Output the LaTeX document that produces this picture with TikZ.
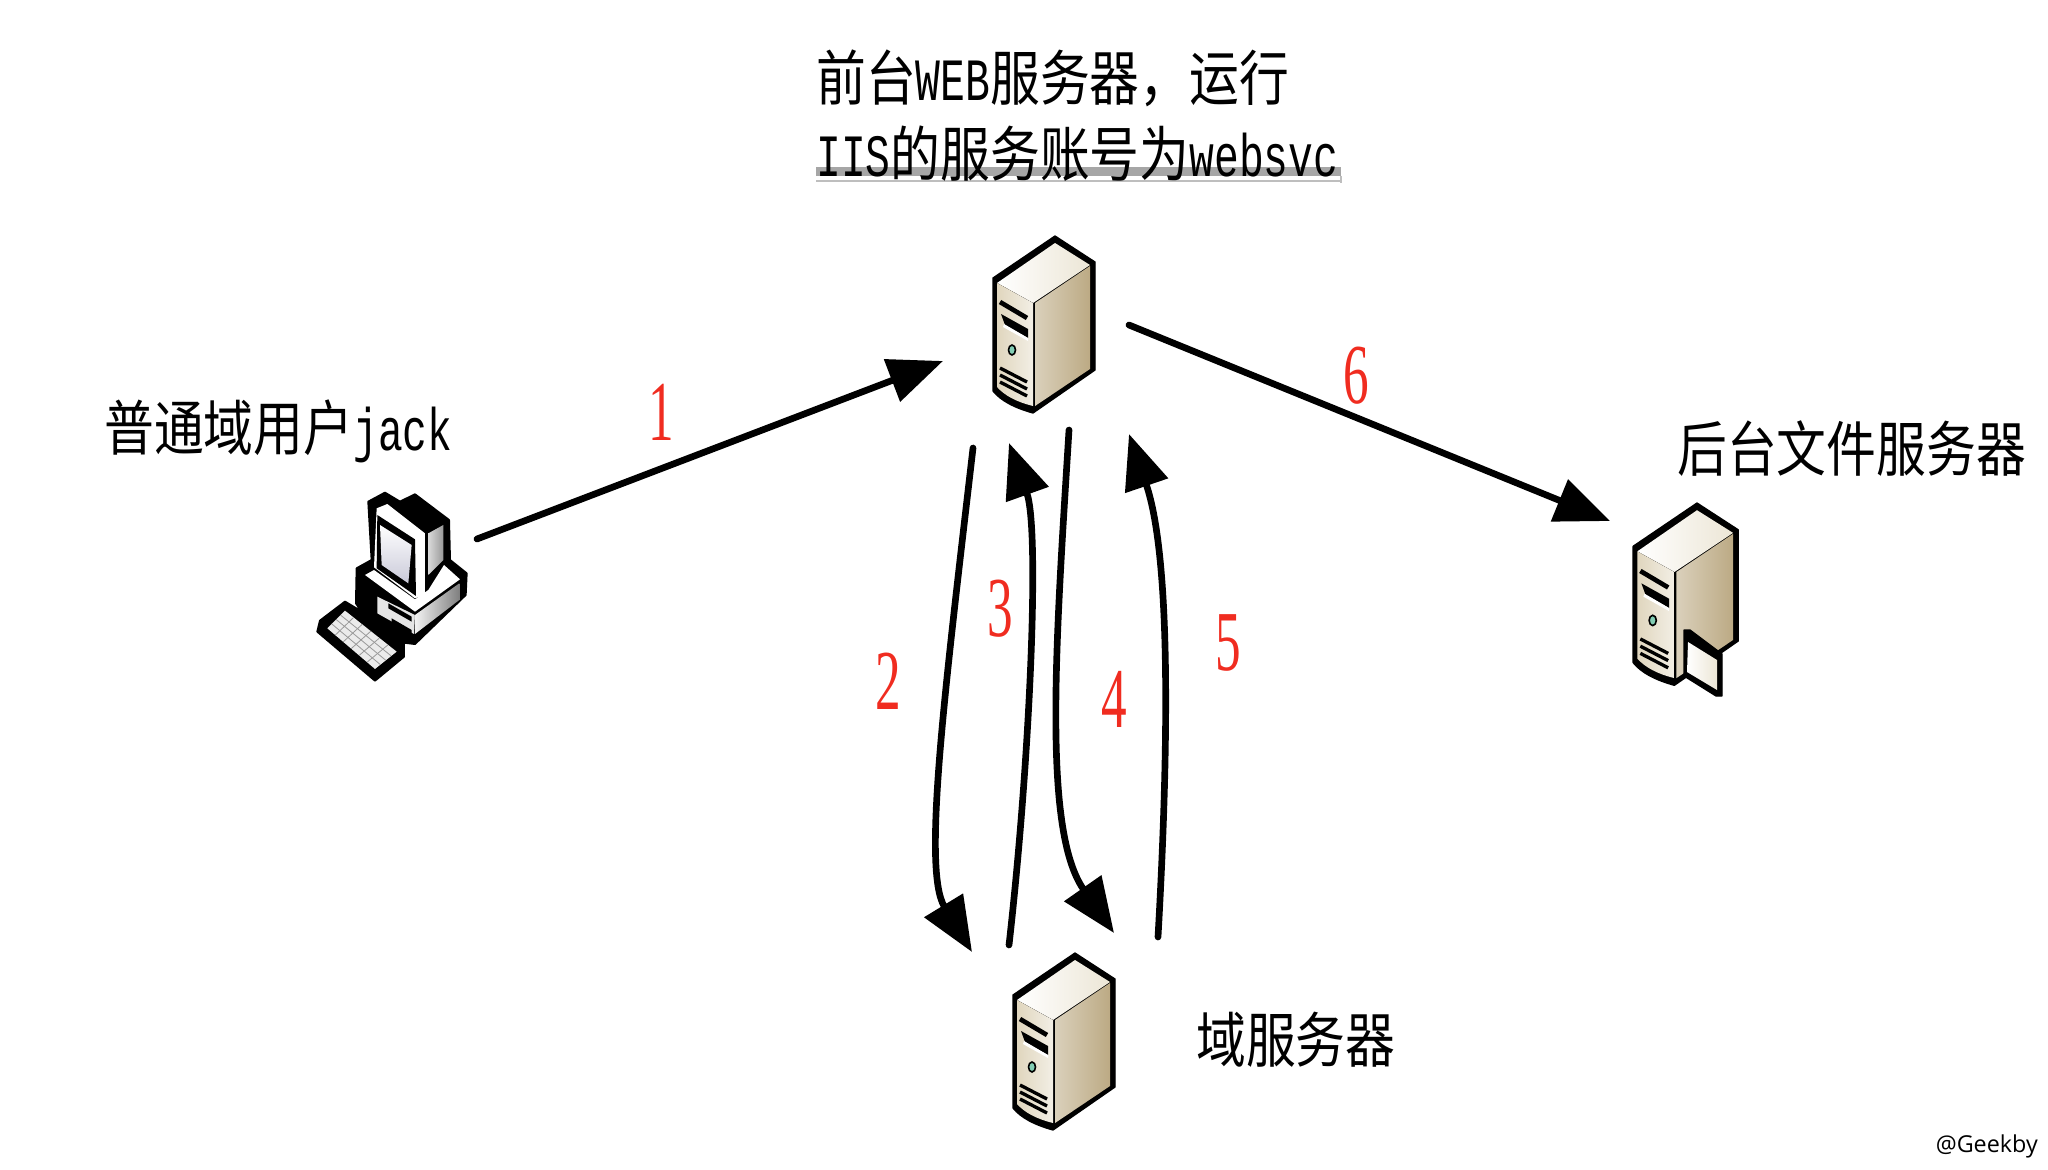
\documentclass[tikz,border=0pt]{standalone}
\usepackage{fontspec}
\setmainfont{Liberation Serif}
\newfontfamily\cjk{Noto Sans CJK SC}
\newfontfamily\half[FakeStretch=0.83]{Liberation Mono}
\newfontfamily\tagfont{Open Sans}
\usetikzlibrary{arrows.meta,calc}

\definecolor{towerTop}{RGB}{236,230,214}
\definecolor{towerFront}{RGB}{224,214,190}
\definecolor{towerSide}{RGB}{188,170,132}
\definecolor{labelRed}{RGB}{240,44,32}

\tikzset{
  flow/.style={line width=5pt,line cap=round,-{Triangle[length=41pt,width=33pt]}},
  stepnum/.style={text=labelRed,font=\fontsize{64pt}{64pt}\selectfont,xscale=0.6,yscale=-1,transform shape,inner sep=0pt},
  caption/.style={anchor=west,font=\fontsize{45pt}{57pt}\selectfont,xscale=0.83,yscale=-1,transform shape,inner sep=0pt,align=left},
  pics/tower/.style={code={
    %Shape: Shell
    \draw [fill=black,line join=round,line width=1pt] (0,0) -- (40,26) -- (40,134) -- (-22,177) .. controls (-40,172) and (-54,165) .. (-62,155) -- (-62,42) -- cycle ;
    %Shape: Top face
    \fill [left color=white,right color=towerTop] (0,7) -- (35,29) -- (-22,67) -- (-58,47) -- cycle ;
    %Shape: Front face
    \fill [left color=towerFront,right color=white!60!towerFront] (-58,47) -- (-22,67) -- (-22,170) .. controls (-38,166) and (-50,160) .. (-58,151) -- cycle ;
    %Shape: Side face
    \fill [left color=white!45!towerSide,middle color=white!60!towerSide,right color=towerSide] (-20,67) -- (35,30) -- (35,133) -- (-20,170) -- cycle ;
    %Straight Lines
    \draw [line width=3.5pt] (-55,66) -- (-28,82) ;
    \fill (-54,78) -- (-27,93) -- (-27,102) -- (-50,89) -- cycle ;
    \fill [white] (-51,88) -- (-27,102) -- (-27,105) -- (-52,91) -- cycle ;
    \foreach \ventY in {0,7,14} {
      \draw [line width=2.5pt] (-55,132+\ventY) -- (-28,146+\ventY) ;
    }
    %Shape: Circle
    \draw [line width=1.2pt,fill={rgb, 255:red, 130; green, 205; blue, 180 }] (-43,114) circle [x radius=3.5,y radius=5] ;
  }},
  pics/station/.style={code={
    \begin{scope}[scale=0.3333]
    %Shape: Shell
    \draw [fill=black,line width=1.5pt,line join=round] (255,38) -- (300,65) -- (345,43) -- (447,120) -- (450,240) -- (500,280) -- (497,345) -- (345,492) -- (312,488) -- (312,530) -- (225,602) -- (52,455) -- (60,422) -- (135,365) -- (185,395) -- (168,370) -- (170,265) -- (215,240) -- (205,65) -- cycle ;
    %Shape: Monitor
    \fill [white] (230,85) -- (262,72) -- (375,160) -- (375,345) -- (345,355) -- (222,262) -- cycle ;
    \fill [black] (232,105) -- (345,178) -- (348,348) -- (230,265) -- cycle ;
    \fill [top color=white,bottom color=white!70!blue!40!gray!50] (240,135) -- (335,195) -- (325,310) -- (245,255) -- cycle ;
    \fill [left color=white!85!black,right color=white!60!black] (385,160) -- (430,135) -- (430,240) -- (385,285) -- cycle ;
    %Shape: Base
    \fill [white] (195,285) -- (222,270) -- (345,358) -- (385,330) -- (432,255) -- (480,298) -- (345,395) -- cycle ;
    \fill [white!90!black] (232,350) -- (345,405) -- (342,462) -- (232,400) -- cycle ;
    \fill [left color=white!95!black,right color=white!50!black] (345,405) -- (478,310) -- (478,360) -- (345,462) -- cycle ;
    \fill (265,370) -- (335,410) -- (335,425) -- (265,385) -- cycle ;
    \fill (275,415) -- (335,450) -- (335,462) -- (275,428) -- cycle ;
    %Shape: Keyboard
    \fill [white!92!black] (82,445) -- (135,392) -- (290,515) -- (225,567) -- cycle ;
    \foreach \keyA in {1,...,5} {
      \draw [white!60!black,line width=0.6pt] ($(82,445)!\keyA/6!(225,567)$) -- ($(135,392)!\keyA/6!(290,515)$) ;
    }
    \foreach \keyB in {1,2,3} {
      \draw [white!60!black,line width=0.6pt] ($(82,445)!\keyB/4!(135,392)$) -- ($(225,567)!\keyB/4!(290,515)$) ;
    }
    \end{scope}
  }},
}

\begin{document}
\begin{tikzpicture}[x=0.75pt,y=0.75pt,yscale=-1,xscale=1]
\useasboundingbox (0,0) rectangle (2048,1170);

%Underline bar
\fill [color={rgb, 255:red, 166; green, 166; blue, 166 }] (816,167) rectangle (1341,176) ;
\draw [color={rgb, 255:red, 190; green, 190; blue, 190 }, line width=0.8pt] (816,181) -- (1341,181) (1341,176) -- (1341,183) ;

%Icons
\pic [transform shape] at (1055,236) {tower};
\pic [transform shape] at (1075,953) {tower};
\pic [transform shape,scale=1.03] at (1697,503) {tower};
\pic [transform shape] at (300,480) {station};

%Shape: Document
\draw [fill=black,line join=round,line width=1pt] (1684,630) -- (1690,630) -- (1722,654) -- (1722,696) -- (1716,696) -- (1684,676) -- cycle ;
\fill [left color=white,right color=towerTop] (1688,642) -- (1717,660) -- (1717,690) -- (1687,672) -- cycle ;

% Text Node
\node [caption] (webtext) at (816,116) {{\cjk 前台}{\half WEB}{\cjk 服务器，运行}\\{\half IIS}{\cjk 的服务账号为}{\half websvc}};
\node [caption] (usertext) at (104,431) {{\cjk 普通域用户}{\half jack}};
\node [caption] (filetext) at (1677,449) {{\cjk 后台文件服务器}};
\node [caption] (dctext) at (1196,1040) {{\cjk 域服务器}};
\node [anchor=east,inner sep=0pt,yscale=-1,transform shape,font=\fontsize{17.5pt}{18pt}\selectfont\tagfont] (tagtext) at (2038,1146) {@Geekby};

%Arrow ends
\coordinate (a1) at (477,539);
\coordinate (b1) at (943,361);
\coordinate (a6) at (1129,325);
\coordinate (b6) at (1610,521);
\coordinate (a2) at (973,448);
\coordinate (b2) at (972,952);
\coordinate (a3) at (1009,945);
\coordinate (b3) at (1009,443);
\coordinate (a4) at (1069,430);
\coordinate (b4) at (1114,933);
\coordinate (a5) at (1158,937);
\coordinate (b5) at (1129,434);

\draw [flow] (a1) -- (b1) ;
\draw [flow] (a6) -- (b6) ;
\draw [flow] (a2) .. controls (945,690) and (922,870) .. (b2) ;
\draw [flow] (a3) .. controls (1030,760) and (1040,530) .. (b3) ;
\draw [flow] (a4) .. controls (1056,640) and (1042,830) .. (b4) ;
\draw [flow] (a5) .. controls (1168,760) and (1172,560) .. (b5) ;

\node [stepnum] (n1) at (661,412) {1};
\node [stepnum] (n2) at (888,681) {2};
\node [stepnum] (n3) at (1000,609) {3};
\node [stepnum] (n4) at (1114,699) {4};
\node [stepnum] (n5) at (1228,643) {5};
\node [stepnum] (n6) at (1356,376) {6};

\end{tikzpicture}
\end{document}
